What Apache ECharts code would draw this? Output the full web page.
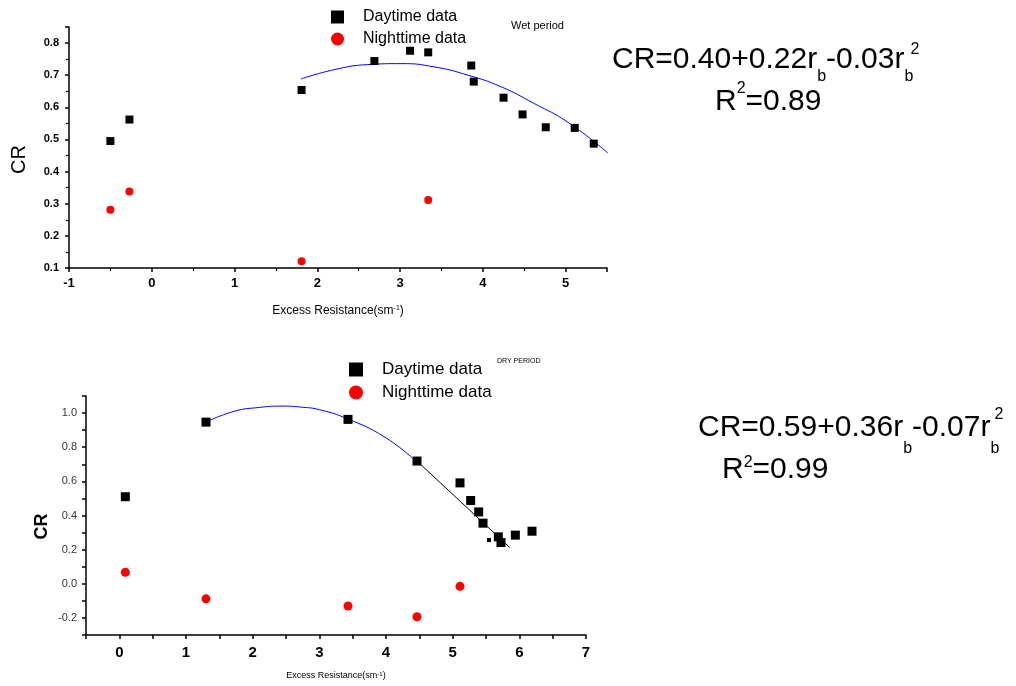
<!DOCTYPE html>
<html>
<head>
<meta charset="utf-8">
<script src="https://cdn.jsdelivr.net/npm/echarts@6/dist/echarts.min.js"></script>
<style>
  html, body { margin: 0; padding: 0; background: #fff; }
  #main { width: 1016px; height: 686px; }
</style>
</head>
<body>
<div id="main"></div>
<script>
// Wet period (top panel) ///////
var wetDay = [[-0.50, 0.495], [-0.27, 0.562], [1.81, 0.654], [2.69, 0.744], [3.12, 0.776], [3.34, 0.771],
    [3.86, 0.730], [3.89, 0.680], [4.25, 0.630], [4.48, 0.578], [4.76, 0.538], [5.11, 0.536], [5.34, 0.487]];
var wetNight = [[-0.50, 0.281], [-0.27, 0.338], [1.81, 0.121], [3.34, 0.312]];
// points
var wetFit = [[1.80, 0.688], [2.20, 0.717], [2.61, 0.733], [3.01, 0.736], [3.41, 0.726], [3.82, 0.700],
    [4.22, 0.664], [4.62, 0.612], [5.03, 0.553], [5.51, 0.458]];

// Dry period (bottom panel) ///////
var dryDay = [[0.09, 0.510], [1.30, 0.947], [3.43, 0.963], [4.465, 0.719], [5.11, 0.591], [5.27, 0.488],
    [5.39, 0.421], [5.455, 0.355], [5.685, 0.275], [5.725, 0.242], [5.94, 0.285], [6.19, 0.308]];
var dryDaySmall = [[5.545, 0.256]];
var dryNight = [[0.09, 0.067], [1.30, -0.088], [3.43, -0.130], [4.465, -0.193], [5.11, -0.015]];
var dryFit = [[1.30, 0.947], [1.72, 1.010], [2.10, 1.033], [2.44, 1.041], [2.72, 1.035], [3.00, 1.020],
    [3.43, 0.965], [3.97, 0.862], [4.40, 0.735]];
var dryLine = [[4.465, 0.719], [5.855, 0.213]];

var legendNames = ['Daytime data', 'Nighttime data'];
var FONT = '"Liberation Sans", Arial, sans-serif';

function axisBase() {
    return {
        type: 'value',
        splitLine: { show: false },
        axisLine: { onZero: false, lineStyle: { color: '#000', width: 1.5 } },
        axisTick: { length: 4, lineStyle: { color: '#000', width: 1.5 } },
        minorTick: { show: false }
    };
}

var xTop = Object.assign(axisBase(), {
    gridIndex: 0, min: -1, max: 5.5, interval: 1,
    minorTick: { show: true, splitNumber: 2, length: 3, lineStyle: { color: '#000', width: 1.2 } },
    axisLabel: {
        fontSize: 13, fontWeight: 'bold', color: '#000', margin: 9,
        formatter: function (v) { return v > 5.01 ? '' : String(v); }
    },
    name: 'Excess Resistance(sm{sup|-1})',
    nameLocation: 'middle', nameGap: 37,
    nameTextStyle: { fontSize: 12, color: '#000', rich: { sup: { fontSize: 7, verticalAlign: 'top', lineHeight: 6 } } }
});
var yTop = Object.assign(axisBase(), {
    gridIndex: 0, min: 0.1, max: 0.85, interval: 0.1,
    minorTick: { show: true, splitNumber: 2, length: 3, lineStyle: { color: '#000', width: 1.2 } },
    axisLabel: {
        fontSize: 11, fontWeight: 'bold', color: '#000', margin: 10,
        formatter: function (v) { return v > 0.81 ? '' : v.toFixed(1); }
    },
    name: 'CR', nameLocation: 'middle', nameGap: 40,
    nameTextStyle: { fontSize: 20, color: '#000', padding: [0, 0, 0, -24] }
});
var xBot = Object.assign(axisBase(), {
    gridIndex: 1, min: -0.5, max: 7, interval: 0.5,
    axisLabel: {
        fontSize: 15, fontWeight: 'bold', color: '#000', margin: 10,
        formatter: function (v) { return Math.abs(v - Math.round(v)) < 1e-6 ? String(Math.round(v)) : ''; }
    },
    name: 'Excess Resistance(sm{sup|-1})',
    nameLocation: 'middle', nameGap: 36,
    nameTextStyle: { fontSize: 9, color: '#000', rich: { sup: { fontSize: 6, verticalAlign: 'top', lineHeight: 5 } } }
});
var yBot = Object.assign(axisBase(), {
    gridIndex: 1, min: -0.3, max: 1.1, interval: 0.1,
    axisLabel: {
        fontSize: 11, color: '#333', margin: 9,
        formatter: function (v) { var k = Math.round(v * 10); return k % 2 === 0 ? v.toFixed(1) : ''; }
    },
    name: 'CR', nameLocation: 'middle', nameGap: 35,
    nameTextStyle: { fontSize: 18, fontWeight: 'bold', color: '#000', padding: [0, 0, 0, -22] }
});

var option = {
    animation: false,
    textStyle: { fontFamily: FONT },
    grid: [
        { left: 69, top: 27, right: 409, bottom: 418 },
        { left: 86, top: 396, right: 430, bottom: 51 }
    ],
    xAxis: [xTop, xBot],
    yAxis: [yTop, yBot],
    legend: [
        {
            orient: 'vertical', left: 331, top: 9, padding: 0, itemWidth: 13, itemHeight: 13, itemGap: 6,
            textStyle: { fontSize: 16, color: '#000', padding: [0, 0, 0, 14] },
            data: [{ name: legendNames[0], icon: 'rect' }, { name: legendNames[1], icon: 'circle' }]
        },
        {
            orient: 'vertical', left: 349, top: 361, padding: 0, itemWidth: 14, itemHeight: 14, itemGap: 6,
            textStyle: { fontSize: 17, color: '#000', padding: [0, 0, 0, 14] },
            data: [{ name: legendNames[0], icon: 'rect' }, { name: legendNames[1], icon: 'circle' }]
        }
    ],
    series: [
        {
            name: 'wet fit', type: 'line', xAxisIndex: 0, yAxisIndex: 0, data: wetFit,
            smooth: true, showSymbol: false, lineStyle: { color: '#0000ff', width: 1 }, z: 1
        },
        {
            name: legendNames[0], type: 'scatter', xAxisIndex: 0, yAxisIndex: 0, data: wetDay,
            symbol: 'rect', symbolSize: 8, itemStyle: { color: '#000', opacity: 1 }, z: 3
        },
        {
            name: legendNames[1], type: 'scatter', xAxisIndex: 0, yAxisIndex: 0, data: wetNight,
            symbol: 'circle', symbolSize: 8, itemStyle: { color: '#ff0000', opacity: 1 }, z: 3
        },
        {
            name: 'dry fit', type: 'line', xAxisIndex: 1, yAxisIndex: 1, data: dryFit,
            smooth: true, showSymbol: false, lineStyle: { color: '#0000ff', width: 1 }, z: 1
        },
        {
            name: 'dry line', type: 'line', xAxisIndex: 1, yAxisIndex: 1, data: dryLine,
            showSymbol: false, lineStyle: { color: '#000', width: 1 }, z: 1
        },
        {
            name: legendNames[0], type: 'scatter', xAxisIndex: 1, yAxisIndex: 1, data: dryDay,
            symbol: 'rect', symbolSize: 9, itemStyle: { color: '#000', opacity: 1 }, z: 3
        },
        {
            name: legendNames[0], type: 'scatter', xAxisIndex: 1, yAxisIndex: 1, data: dryDaySmall,
            symbol: 'rect', symbolSize: 4, itemStyle: { color: '#000', opacity: 1 }, z: 3
        },
        {
            name: legendNames[1], type: 'scatter', xAxisIndex: 1, yAxisIndex: 1, data: dryNight,
            symbol: 'circle', symbolSize: 9, itemStyle: { color: '#ff0000', opacity: 1 }, z: 3
        }
    ],
    graphic: [
        { type: 'text', x: 511, y: 26, style: { text: 'Wet period', font: '11px ' + FONT, fill: '#000', verticalAlign: 'middle' } },
        { type: 'text', x: 497, y: 361, style: { text: 'DRY PERIOD', font: '7px ' + FONT, fill: '#000', verticalAlign: 'middle' } },
        // top equation
        {
            type: 'text', x: 612, y: 45,
            style: {
                text: '{m|CR=0.40+0.22r}{s|b}{m|-0.03r}{s|b}', verticalAlign: 'top', align: 'left',
                rich: {
                    m: { fontSize: 30, lineHeight: 30, verticalAlign: 'top', fill: '#000', fontFamily: FONT },
                    s: { fontSize: 16, lineHeight: 40, verticalAlign: 'bottom', fill: '#000', fontFamily: FONT }
                }
            }
        },
        { type: 'text', x: 915, y: 50, style: { text: '2', font: '16px ' + FONT, fill: '#000', align: 'center', verticalAlign: 'middle' } },
        {
            type: 'text', x: 715, y: 81,
            style: {
                text: '{m|R}{p|2}{m|=0.89}', verticalAlign: 'top', align: 'left',
                rich: {
                    m: { fontSize: 30, lineHeight: 36, verticalAlign: 'bottom', fill: '#000', fontFamily: FONT },
                    p: { fontSize: 16, lineHeight: 8, verticalAlign: 'top', fill: '#000', fontFamily: FONT }
                }
            }
        },
        // bottom equation
        {
            type: 'text', x: 698, y: 413,
            style: {
                text: '{m|CR=0.59+0.36r}{s|b}{m|-0.07r}{s|b}', verticalAlign: 'top', align: 'left',
                rich: {
                    m: { fontSize: 30, lineHeight: 30, verticalAlign: 'top', fill: '#000', fontFamily: FONT },
                    s: { fontSize: 16, lineHeight: 44, verticalAlign: 'bottom', fill: '#000', fontFamily: FONT }
                }
            }
        },
        { type: 'text', x: 999, y: 415, style: { text: '2', font: '16px ' + FONT, fill: '#000', align: 'center', verticalAlign: 'middle' } },
        {
            type: 'text', x: 722, y: 455,
            style: {
                text: '{m|R}{p|2}{m|=0.99}', verticalAlign: 'top', align: 'left',
                rich: {
                    m: { fontSize: 30, lineHeight: 30, verticalAlign: 'bottom', fill: '#000', fontFamily: FONT },
                    p: { fontSize: 16, lineHeight: 8, verticalAlign: 'top', fill: '#000', fontFamily: FONT }
                }
            }
        }
    ]
};

var chart = echarts.init(document.getElementById('main'));
chart.setOption(option);

window.addEventListener('resize', function () {
    chart.resize();
});
</script>
</body>
</html>
